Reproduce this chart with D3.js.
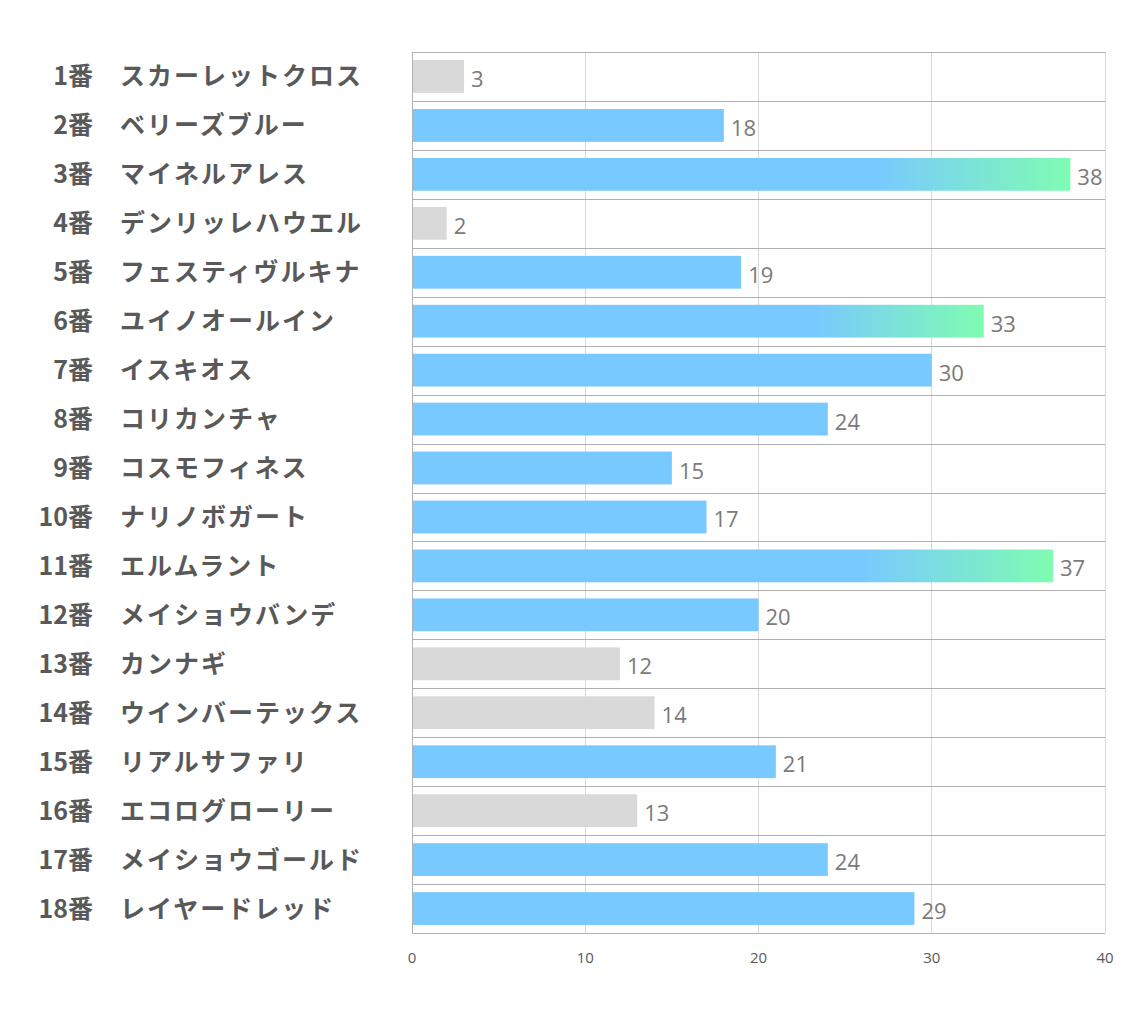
<!DOCTYPE html>
<html><head><meta charset="utf-8">
<script src="https://cdn.jsdelivr.net/npm/d3@7"></script>
<style>body{margin:0;background:#fff;}svg{display:block;}</style>
</head><body>
<div id="chart"></div>
<script>
const numbers = ["1番","2番","3番","4番","5番","6番","7番","8番","9番","10番","11番","12番","13番","14番","15番","16番","17番","18番"];
const names = ["スカーレットクロス","ベリーズブルー","マイネルアレス","デンリッレハウエル","フェスティヴルキナ","ユイノオールイン","イスキオス","コリカンチャ","コスモフィネス","ナリノボガート","エルムラント","メイショウバンデ","カンナギ","ウインバーテックス","リアルサファリ","エコログローリー","メイショウゴールド","レイヤードレッド"];
const values = [3,18,38,2,19,33,30,24,15,17,37,20,12,14,21,13,24,29];
const groups = ["low","mid","top","low","mid","top","mid","mid","mid","mid","top","mid","low","low","mid","low","mid","mid"];
const xTicks = [0,10,20,30,40];

const W = 1134, H = 1020;
const m = {left:412, right:1105, top:52, bottom:933};
const svg = d3.select("#chart").append("svg").attr("width",W).attr("height",H);

const defs = svg.append("defs");
const grad = defs.append("linearGradient").attr("id","g").attr("x1","0").attr("x2","1").attr("y1","0").attr("y2","0");
grad.append("stop").attr("offset","0.7").attr("stop-color","#78c9ff");
grad.append("stop").attr("offset","1").attr("stop-color","#7ffcb2");

const x = d3.scaleLinear().domain([0,40]).range([m.left,m.right]);
const y = d3.scaleBand().domain(numbers).range([m.top,m.bottom]).paddingInner(0.33).paddingOuter(0.165);

// vertical gridlines
svg.append("g").selectAll("line").data(xTicks.slice(1)).join("line")
  .attr("x1",d=>x(d)).attr("x2",d=>x(d)).attr("y1",m.top).attr("y2",m.bottom)
  .attr("stroke","#d9d9d9").attr("stroke-width",1).attr("shape-rendering","crispEdges");

// horizontal separators
const seps = d3.range(numbers.length+1);
svg.append("g").selectAll("line").data(seps).join("line")
  .attr("x1",m.left).attr("x2",m.right)
  .attr("y1",i=>Math.round(m.top+i*(m.bottom-m.top)/numbers.length)+0.5)
  .attr("y2",i=>Math.round(m.top+i*(m.bottom-m.top)/numbers.length)+0.5)
  .attr("stroke","#b0b0b0").attr("stroke-width",1);

// left axis line
svg.append("line").attr("x1",m.left+0.5).attr("x2",m.left+0.5).attr("y1",m.top).attr("y2",m.bottom)
  .attr("stroke","#b0b0b0");

const color = g => g==="low" ? "#d9d9d9" : g==="top" ? "url(#g)" : "#78c9ff";

svg.append("g").selectAll("rect").data(values).join("rect")
  .attr("x",x(0)+1).attr("y",(d,i)=>y(numbers[i]))
  .attr("width",d=>x(d)-x(0)-1).attr("height",y.bandwidth())
  .attr("fill",(d,i)=>color(groups[i]));

svg.append("g").selectAll("text").data(values).join("text")
  .attr("x",d=>x(d)+7).attr("y",(d,i)=>y(numbers[i])+y.bandwidth()/2+1.5)
  .attr("dominant-baseline","central")
  .attr("font-family","'Open Sans', sans-serif").attr("font-size",22).attr("fill","#7a7a7a")
  .text(d=>d);

// category labels
const lab = svg.append("g").attr("font-family","'Noto Sans CJK JP', sans-serif").attr("font-weight","bold")
  .attr("font-size",25).attr("fill","#595959");
lab.selectAll("text.n").data(numbers).join("text").attr("class","n")
  .attr("x",93).attr("y",d=>y(d)+y.bandwidth()/2-2).attr("dominant-baseline","central")
  .attr("text-anchor","end").text(d=>d);
lab.selectAll("text.m").data(names).join("text").attr("class","m")
  .attr("x",120).attr("y",(d,i)=>y(numbers[i])+y.bandwidth()/2-2).attr("dominant-baseline","central")
  .attr("letter-spacing","2px").text(d=>d);

// x axis tick labels
svg.append("g").selectAll("text").data(xTicks).join("text")
  .attr("x",d=>x(d)).attr("y",957).attr("dominant-baseline","central").attr("text-anchor","middle")
  .attr("font-family","'Open Sans', sans-serif").attr("font-size",15).attr("fill","#595959")
  .text(d=>d);
</script>
</body></html>
